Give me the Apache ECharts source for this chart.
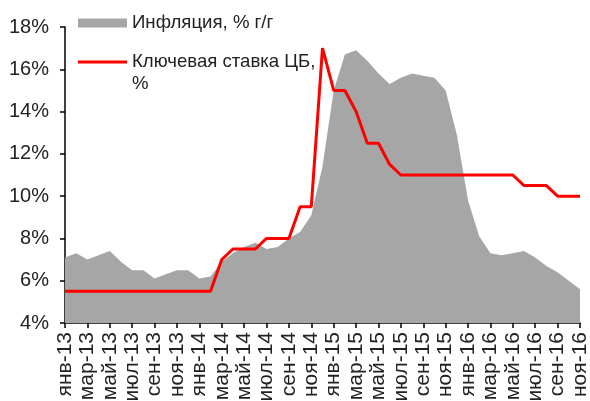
<!DOCTYPE html>
<html>
<head>
<meta charset="utf-8">
<script src="https://cdn.jsdelivr.net/npm/echarts@6/dist/echarts.min.js"></script>
<style>
  html, body { margin: 0; padding: 0; background: #fff; }
  #main { width: 590px; height: 401px; }
</style>
</head>
<body>
<div id="main"></div>
<script>
// месяцы янв-13 ... ноя-16
var months = [
  'янв-13','фев-13','мар-13','апр-13','май-13','июн-13','июл-13','авг-13','сен-13','окт-13','ноя-13','дек-13',
  'янв-14','фев-14','мар-14','апр-14','май-14','июн-14','июл-14','авг-14','сен-14','окт-14','ноя-14','дек-14',
  'янв-15','фев-15','мар-15','апр-15','май-15','июн-15','июл-15','авг-15','сен-15','окт-15','ноя-15','дек-15',
  'янв-16','фев-16','мар-16','апр-16','май-16','июн-16','июл-16','авг-16','сен-16','окт-16','ноя-16'
];

// инфляция, % г/г
var inflation = [
  7.1, 7.3, 7.0, 7.2, 7.4, 6.9, 6.5, 6.5, 6.1, 6.3, 6.5, 6.5,
  6.1, 6.2, 6.9, 7.3, 7.6, 7.8, 7.5, 7.6, 8.0, 8.3, 9.1, 11.4,
  15.0, 16.7, 16.9, 16.4, 15.8, 15.3, 15.6, 15.8, 15.7, 15.6, 15.0, 12.9,
  9.8, 8.1, 7.3, 7.2, 7.3, 7.4, 7.1, 6.7, 6.4, 6.0, 5.6
];

// ключевая ставка ЦБ, %
var keyRate = [
  5.5, 5.5, 5.5, 5.5, 5.5, 5.5, 5.5, 5.5, 5.5, 5.5, 5.5, 5.5,
  5.5, 5.5, 7.0, 7.5, 7.5, 7.5, 8.0, 8.0, 8.0, 9.5, 9.5, 17.0,
  15.0, 15.0, 14.0, 12.5, 12.5, 11.5, 11.0, 11.0, 11.0, 11.0, 11.0, 11.0,
  11.0, 11.0, 11.0, 11.0, 11.0, 10.5, 10.5, 10.5, 10.0, 10.0, 10.0
];

var yMin = 4, yMax = 18, yStep = 2;

var font = 'Liberation Sans, Arial, sans-serif';
var textColor = '#222';

var myChart = echarts.init(document.getElementById('main'));

var option = {
  animation: false,
  textStyle: { fontFamily: font },
  grid: { left: 65, right: 10, top: 27, bottom: 78, containLabel: false, outerBoundsMode: 'none' },
  legend: [
    {
      left: 78, top: 11, padding: 0,
      itemWidth: 49, itemHeight: 9,
      textStyle: { fontFamily: font, fontSize: 18.6, color: textColor, lineHeight: 24 },
      data: [{ name: 'Инфляция, % г/г', icon: 'rect' }]
    },
    {
      left: 78, top: 29, padding: 0,
      itemWidth: 49, itemHeight: 3,
      textStyle: { fontFamily: font, fontSize: 18.6, color: textColor, lineHeight: 22 },
      formatter: function () { return '\nКлючевая ставка ЦБ,\n%'; },
      data: [{ name: 'Ключевая ставка ЦБ, %', icon: 'rect' }]
    }
  ],
  xAxis: {
    type: 'category',
    data: months,
    boundaryGap: false,
    axisLine: { show: true, lineStyle: { color: '#000', width: 1.5 } },
    axisTick: { show: true, interval: 1, length: 5, lineStyle: { color: '#000', width: 1.5 } },
    axisLabel: {
      interval: 1, rotate: 90, margin: 9,
      fontFamily: font, fontSize: 21, color: textColor
    },
    splitLine: { show: false }
  },
  yAxis: {
    type: 'value',
    min: yMin, max: yMax, interval: yStep,
    axisLine: { show: true, lineStyle: { color: '#000', width: 1.5 } },
    axisTick: { show: true, length: 5, lineStyle: { color: '#000', width: 1.5 } },
    axisLabel: {
      formatter: '{value}%', margin: 16,
      fontFamily: font, fontSize: 20, color: textColor
    },
    splitLine: { show: false }
  },
  series: [
    {
      name: 'Инфляция, % г/г',
      type: 'line',
      data: inflation,
      symbol: 'none',
      itemStyle: { color: '#a6a6a6' },
      lineStyle: { width: 0, color: '#a6a6a6' },
      areaStyle: { color: '#a6a6a6', opacity: 1 },
      z: 1
    },
    {
      name: 'Ключевая ставка ЦБ, %',
      type: 'line',
      data: keyRate,
      symbol: 'none',
      itemStyle: { color: '#ff0000' },
      lineStyle: { width: 3, color: '#ff0000' },
      z: 3
    }
  ]
};

myChart.setOption(option);
</script>
</body>
</html>
